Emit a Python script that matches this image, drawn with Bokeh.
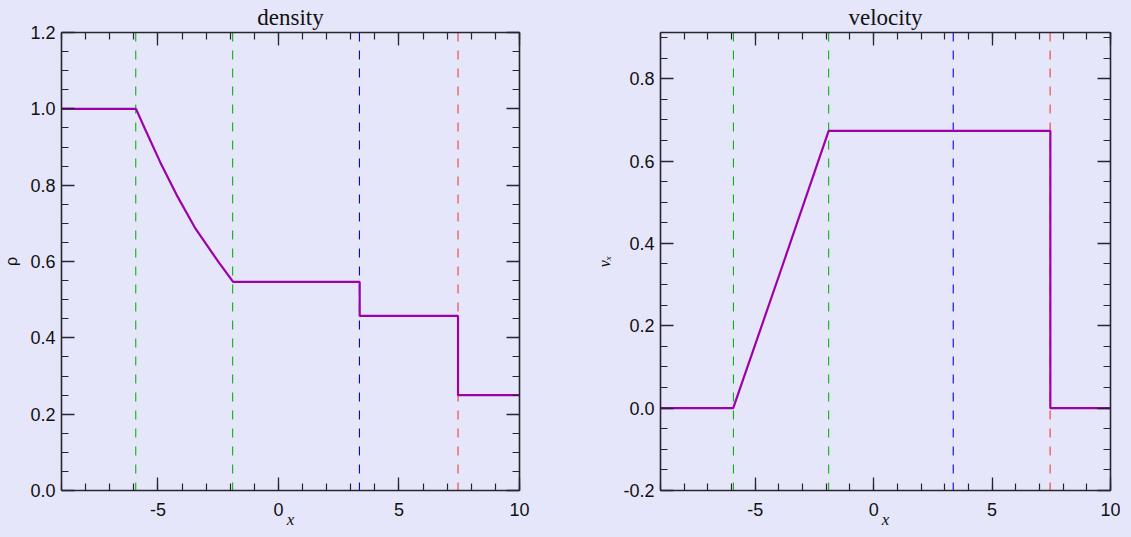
from bokeh.plotting import figure
from bokeh.models import (Range1d, LinearAxis, SingleIntervalTicker,
                          PrintfTickFormatter, CustomJSTickFormatter, Span, Title)
from bokeh.layouts import row
from bokeh.embed import file_html
from bokeh.resources import INLINE

# ---------------- data ----------------
# density profile: left state, rarefaction fan, plateau, contact, shock, right state
x_rho = [-9.0, -5.91, -5.54, -4.91, -4.22, -3.44, -2.49, -1.88,
         3.37, 3.37, 7.45, 7.45, 10.0]
rho = [1.0, 1.0, 0.948, 0.861, 0.774, 0.686, 0.599, 0.5465,
       0.5465, 0.4575, 0.4575, 0.2497, 0.2497]

# velocity profile
x_vx = [-9.0, -5.93, -3.91, -1.90, 7.46, 7.46, 10.0]
vx = [0.0, 0.0, 0.336, 0.673, 0.673, 0.0, 0.0]

# wave positions (rarefaction head, rarefaction tail, contact, shock)
wave_x = [-5.92, -1.90, 3.36, 7.45]
wave_colors = ["#10b010", "#10b010", "#0000ff", "#f03a40"]

x_major, x_minor = 5, 5
y_major, y_minor = 0.2, 4

BG = "#E6E6FA"
PURPLE = "#9C00A8"
AXC = "#26262e"
TICK_FONT = "Liberation Sans"


def style_axis(ax, labels=True):
    ax.axis_line_color = AXC
    ax.axis_line_width = 1.6
    ax.major_tick_line_color = AXC
    ax.major_tick_line_width = 1.3
    ax.minor_tick_line_color = AXC
    ax.minor_tick_line_width = 1.2
    ax.major_tick_in = 13
    ax.major_tick_out = 0
    ax.minor_tick_in = 7
    ax.minor_tick_out = 0
    ax.major_label_text_font = TICK_FONT
    ax.major_label_text_color = "#111111"
    if labels:
        ax.major_label_text_font_size = "18px"
    else:
        ax.formatter = CustomJSTickFormatter(code="return '';")
        ax.major_label_text_font_size = "1px"
        ax.major_label_standoff = 0


def make_panel(xs, ys, yr, title, ylabel, ylabel_font, ylabel_style,
               fw, fh, bl, br, bt, bb, tstand):
    p = figure(frame_width=fw, frame_height=fh,
               min_border_left=bl, min_border_right=br,
               min_border_top=bt, min_border_bottom=bb,
               x_range=Range1d(-9, 10), y_range=Range1d(*yr),
               x_axis_type=None, y_axis_type=None,
               output_backend="svg", toolbar_location=None)
    p.title = Title(text=title, align="center", text_font="Liberation Serif",
                    text_font_size="23px", text_font_style="normal",
                    text_color="#111111", standoff=tstand)
    p.background_fill_color = BG
    p.border_fill_color = BG
    p.outline_line_color = None

    xt = SingleIntervalTicker(interval=x_major, num_minor_ticks=x_minor)
    yt = SingleIntervalTicker(interval=y_major, num_minor_ticks=y_minor)

    below = LinearAxis(ticker=xt, formatter=PrintfTickFormatter(format="%d"),
                       axis_label="x")
    style_axis(below)
    below.major_label_standoff = 12
    below.axis_label_text_font = "Liberation Serif"
    below.axis_label_text_font_style = "italic"
    below.axis_label_text_font_size = "17px"
    below.axis_label_text_color = "#111111"
    below.axis_label_standoff = -9

    left = LinearAxis(ticker=yt, formatter=PrintfTickFormatter(format="%.1f"),
                      axis_label=ylabel)
    style_axis(left)
    left.major_label_standoff = 6
    left.axis_label_text_font = ylabel_font
    left.axis_label_text_font_style = ylabel_style
    left.axis_label_text_font_size = "16px"
    left.axis_label_text_color = "#111111"
    left.axis_label_standoff = 7

    above = LinearAxis(ticker=xt)
    style_axis(above, labels=False)
    right = LinearAxis(ticker=yt)
    style_axis(right, labels=False)

    p.add_layout(below, "below")
    p.add_layout(left, "left")
    p.add_layout(above, "above")
    p.add_layout(right, "right")

    for xv, c in zip(wave_x, wave_colors):
        p.add_layout(Span(location=xv, dimension="height", line_color=c,
                          line_width=1.1, line_dash="9 9", level="underlay"))

    p.line(xs, ys, line_color=PURPLE, line_width=2.2)
    return p


p1 = make_panel(x_rho, rho, (0, 1.2000001), "density",
                "ρ", "Liberation Sans", "normal",
                fw=458, fh=458, bl=56, br=40, bt=24, bb=39, tstand=5)
# frames in a row share their top edge; the velocity range is chosen so that
# its values sit at the same heights as in the reference
p2 = make_panel(x_vx, vx, (-0.2, 0.912), "velocity",
                "vₓ", "Liberation Serif", "italic",
                fw=450, fh=458, bl=101, br=10, bt=24, bb=39, tstand=5)

layout = row(p1, p2)

template = """{% block postamble %}<style>html, body { background-color: #E6E6FA; }</style>{% endblock %}"""
open("out.html", "w").write(file_html(layout, INLINE, template=template))
